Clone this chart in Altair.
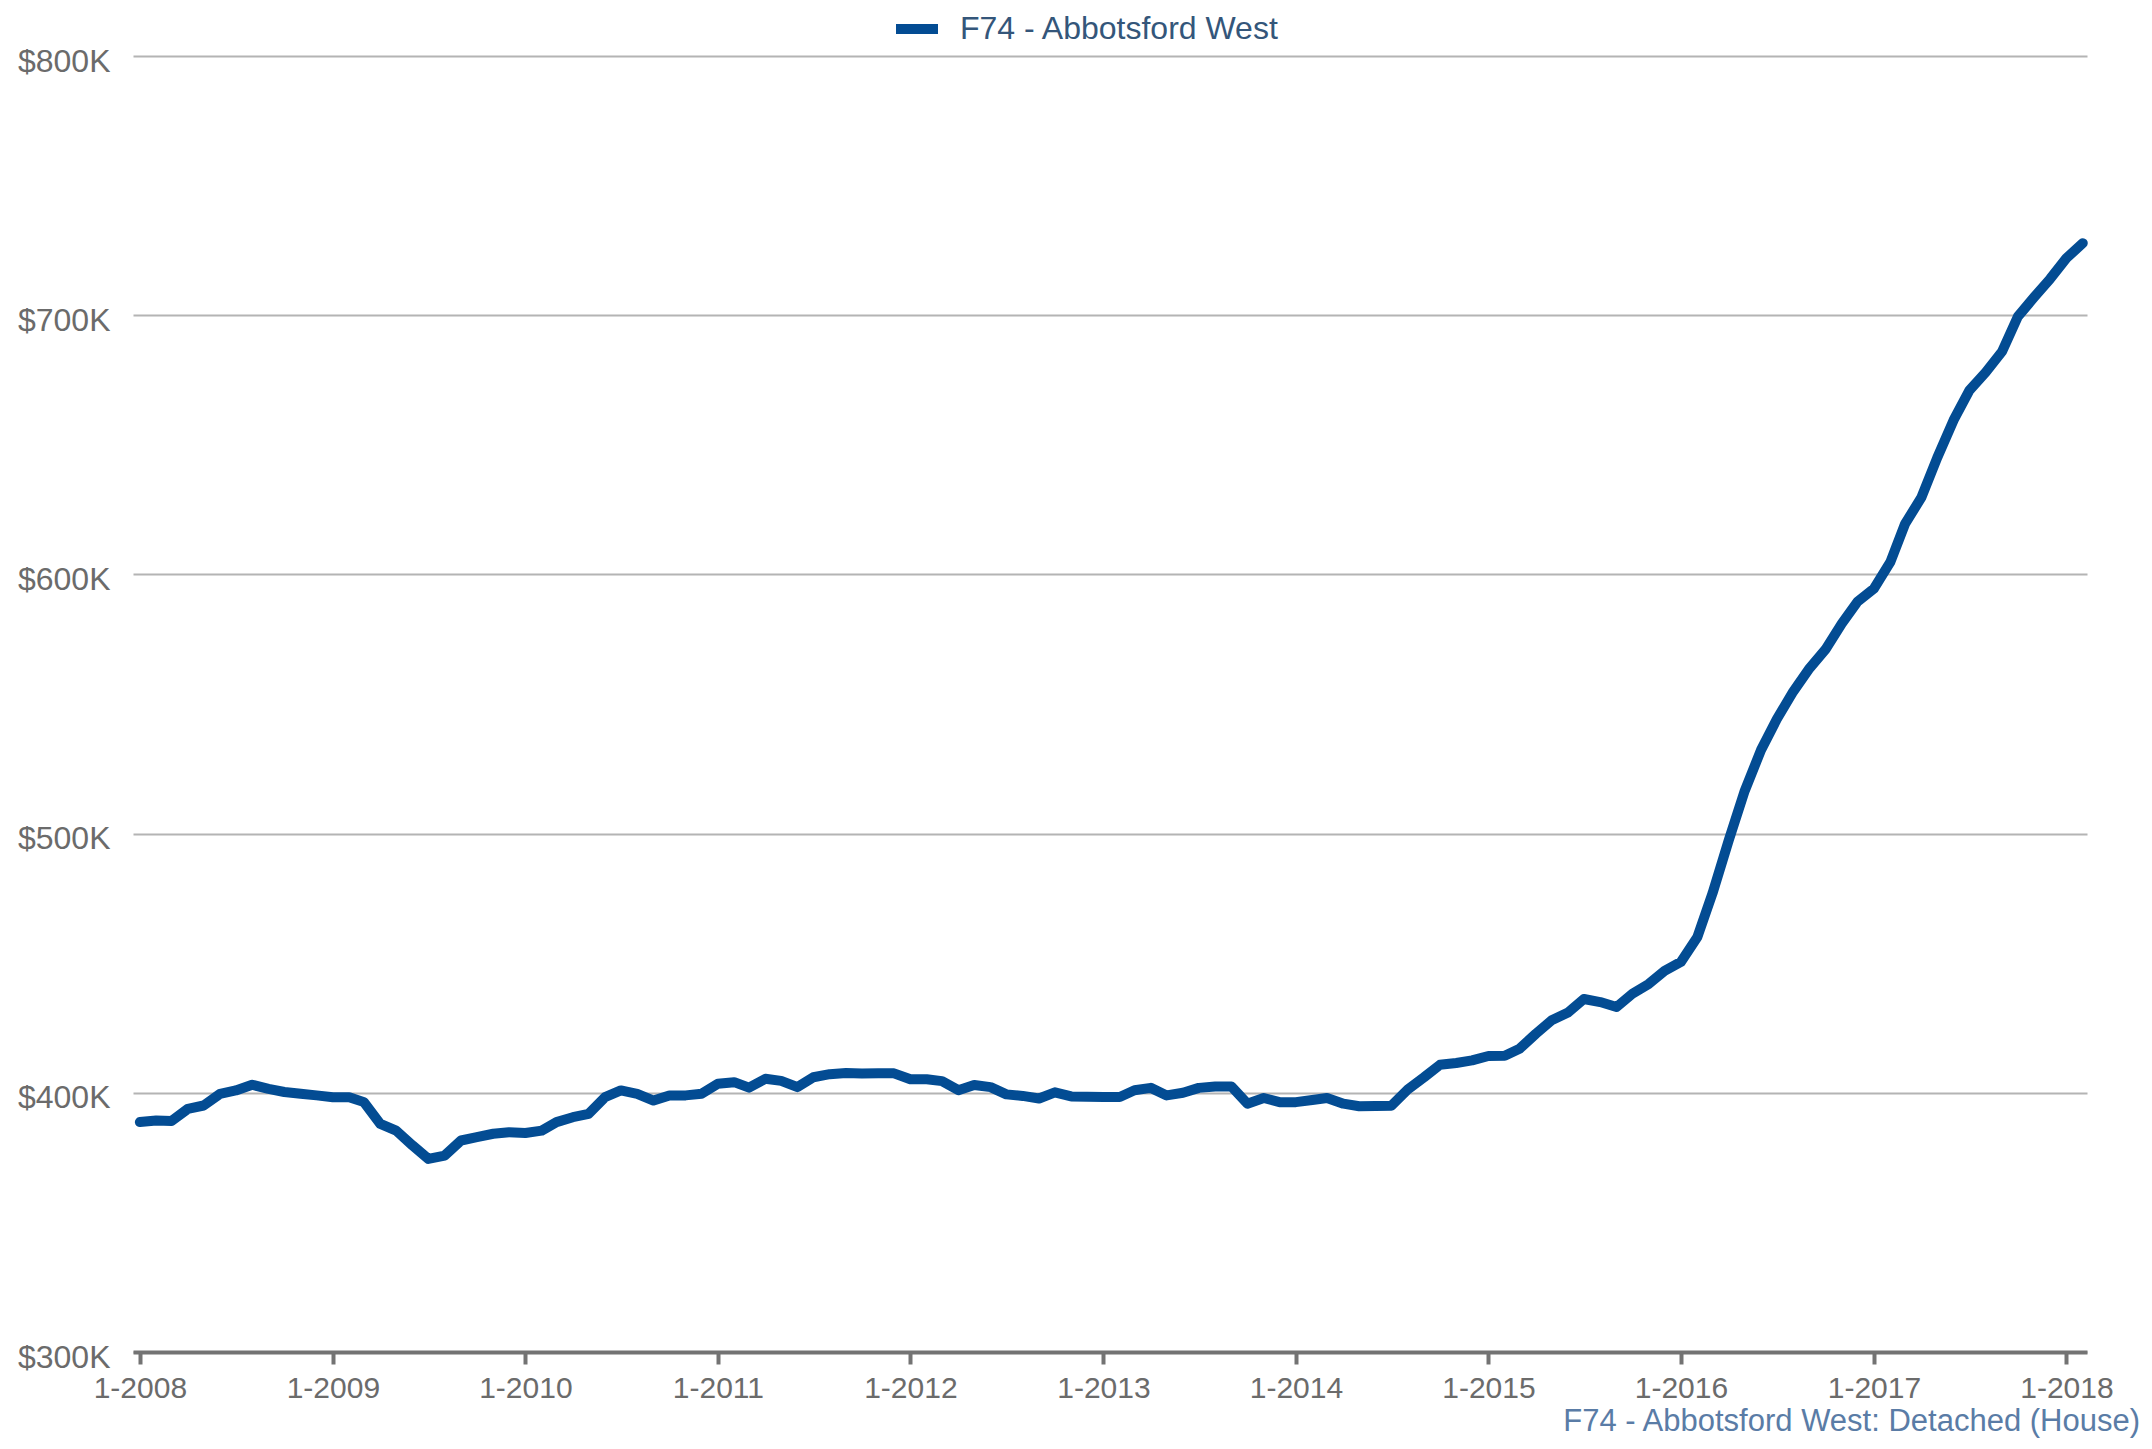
import altair as alt
import pandas as pd

series_name = "F74 - Abbotsford West"
caption = "F74 - Abbotsford West: Detached (House)"

start_year = 2008
start_month = 1

# Monthly benchmark price (thousands of dollars), Jan 2008 .. Feb 2018
values_k = [
    388.7, 389.3, 389.1, 393.8, 395.1, 399.6, 400.9, 403.1, 401.5, 400.3, 399.6, 399.0,
    398.3, 398.3, 396.4, 388.0, 385.4, 379.7, 374.5, 375.8, 381.6, 382.9, 384.2, 384.8,
    384.5, 385.4, 388.7, 390.6, 391.9, 398.3, 400.9, 399.6, 397.0, 399.0, 399.0, 399.6,
    403.5, 404.1, 402.0, 405.4, 404.6, 402.2, 406.0, 407.2, 407.6, 407.4, 407.5, 407.5,
    405.2, 405.2, 404.5, 401.0, 403.0, 402.2, 399.4, 398.8, 397.8, 400.2, 398.6, 398.5,
    398.4, 398.4, 401.0, 401.9, 399.0, 400.0, 401.9, 402.4, 402.4, 395.8, 398.0, 396.4,
    396.4, 397.2, 398.0, 395.8, 394.8, 394.9, 395.0, 401.3, 406.0, 410.8, 411.5, 412.5,
    414.2, 414.3, 417.0, 422.8, 428.0, 431.0, 436.2, 435.0, 433.1, 438.2, 442.0, 447.0,
    450.5, 460.0, 477.0, 497.6, 516.5, 532.3, 544.2, 554.8, 563.8, 571.0, 581.0, 589.5,
    594.5, 604.7, 619.5, 629.7, 645.0, 659.5, 671.0, 678.0, 686.0, 699.5, 707.0, 714.0,
    722.0, 727.8,
]

dates = []
for i in range(len(values_k)):
    y = start_year + (start_month - 1 + i) // 12
    m = (start_month - 1 + i) % 12 + 1
    dates.append(f"{y:04d}-{m:02d}-01T00:00:00")

df = pd.DataFrame({
    "date": dates,
    "price": [v * 1000 for v in values_k],
    "series": [series_name] * len(values_k),
})

year_ticks = [alt.DateTime(year=y, month=1, date=1) for y in range(2008, 2019)]
y_ticks = [300000, 400000, 500000, 600000, 700000, 800000]

FONT = "Liberation Sans"

chart = (
    alt.Chart(df)
    .mark_line(strokeWidth=10, strokeCap="round", strokeJoin="round")
    .encode(
        x=alt.X(
            "date:T",
            title=None,
            scale=alt.Scale(
                domain=[
                    alt.DateTime(year=2007, month=12, date=19),
                    alt.DateTime(year=2018, month=2, date=9),
                ]
            ),
            axis=alt.Axis(
                values=year_ticks,
                labelExpr="'1-' + timeFormat(datum.value, '%Y')",
                grid=False,
                domain=True,
                domainColor="#737373",
                domainWidth=4,
                ticks=True,
                tickColor="#737373",
                tickWidth=4,
                tickSize=12,
                labelFontSize=30,
                labelFont=FONT,
                labelColor="#6b6b6b",
                labelPadding=9,
                labelFlush=False,
                labelOverlap=False,
            ),
        ),
        y=alt.Y(
            "price:Q",
            title=None,
            scale=alt.Scale(domain=[300000, 800000], nice=False, zero=False),
            axis=alt.Axis(
                values=y_ticks,
                labelExpr="'$' + format(datum.value / 1000, 'd') + 'K'",
                grid=True,
                gridColor="#b4b4b4",
                gridWidth=2,
                domain=False,
                ticks=False,
                labelFontSize=32,
                labelFont=FONT,
                labelColor="#6b6b6b",
                labelPadding=23,
                labelBaseline="alphabetic",
                labelOffset=15,
            ),
        ),
        color=alt.Color(
            "series:N",
            scale=alt.Scale(range=["#034c93"]),
            legend=alt.Legend(
                title=None,
                orient="none",
                legendX=758,
                legendY=-53,
                padding=0,
                symbolType="stroke",
                symbolSize=1764,
                symbolStrokeWidth=10,
                labelFontSize=32,
                labelFont=FONT,
                labelColor="#34567a",
                labelOffset=17,
                labelLimit=0,
            ),
        ),
    )
    .properties(
        width=1954,
        height=1296,
        autosize=alt.AutoSizeParams(type="none"),
        padding={"left": 125, "top": 48, "right": 55, "bottom": 88},
        title=alt.TitleParams(
            text=caption,
            orient="bottom",
            anchor="end",
            frame="group",
            dx=53,
            offset=4,
            fontSize=31,
            font=FONT,
            fontWeight="normal",
            color="#5a7ca6",
        ),
    )
    .configure_view(stroke=None)
)

chart.save("out.html", embed_options={"renderer": "svg", "actions": False})
